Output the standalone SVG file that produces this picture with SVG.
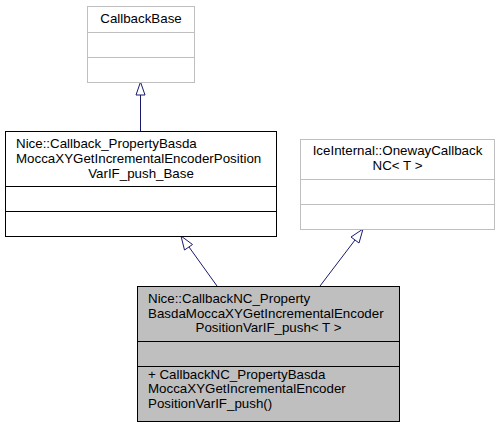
<svg xmlns="http://www.w3.org/2000/svg" width="501" height="427" viewBox="0 0 501 427">
<style>
text{font-family:"Liberation Sans",Arial,Helvetica,sans-serif;font-size:13.33px;fill:#000}
.c{text-anchor:middle}
.g{fill:#fff;stroke:#bfbfbf;stroke-width:1}
.b{fill:#fff;stroke:#000;stroke-width:1}
.d{fill:#bfbfbf;stroke:#000;stroke-width:1}
.e{stroke:#191970;stroke-width:1;fill:none}
.h{fill:#fff;stroke:#191970;stroke-width:1}
</style>
<rect width="501" height="427" fill="#fff"/>
<g id="connectors">
<line class="e" x1="140.5" y1="131" x2="140.5" y2="95"/>
<polygon class="h" points="140.5,82 136,95 145,95"/>
<line class="e" x1="217" y1="286" x2="189" y2="247"/>
<polygon class="h" points="181,236 184.5,250 192.5,244.5"/>
<line class="e" x1="320" y1="286" x2="355" y2="240"/>
<polygon class="h" points="363,229 351,237 359,243"/>
</g>
<g id="CallbackBase">
<rect class="g" x="87.5" y="6.5" width="107" height="76"/>
<line class="g" x1="87.5" y1="32.5" x2="194.5" y2="32.5"/>
<line class="g" x1="87.5" y1="57.5" x2="194.5" y2="57.5"/>
<text class="c" x="141" y="23">CallbackBase</text>
</g>
<g id="CallbackBaseNice">
<rect class="b" x="5.5" y="131.5" width="271" height="105"/>
<line class="b" x1="5.5" y1="186.5" x2="276.5" y2="186.5"/>
<line class="b" x1="5.5" y1="211.5" x2="276.5" y2="211.5"/>
<text x="16" y="148">Nice::Callback_PropertyBasda</text>
<text x="16" y="163">MoccaXYGetIncrementalEncoderPosition</text>
<text class="c" x="141" y="178">VarIF_push_Base</text>
</g>
<g id="OnewayCallbackNC">
<rect class="g" x="300.5" y="139.5" width="194" height="90"/>
<line class="g" x1="300.5" y1="179.5" x2="494.5" y2="179.5"/>
<line class="g" x1="300.5" y1="204.5" x2="494.5" y2="204.5"/>
<text class="c" x="397.5" y="155">IceInternal::OnewayCallback</text>
<text class="c" x="397.5" y="170">NC&lt; T &gt;</text>
</g>
<g id="CallbackNC">
<rect class="d" x="137.5" y="286.5" width="262" height="135"/>
<line class="d" x1="137.5" y1="341.5" x2="399.5" y2="341.5"/>
<line class="d" x1="137.5" y1="366.5" x2="399.5" y2="366.5"/>
<text x="148" y="303">Nice::CallbackNC_Property</text>
<text x="148" y="318">BasdaMoccaXYGetIncrementalEncoder</text>
<text class="c" x="268.5" y="332">PositionVarIF_push&lt; T &gt;</text>
<text x="148" y="379">+ CallbackNC_PropertyBasda</text>
<text x="148" y="393">MoccaXYGetIncrementalEncoder</text>
<text x="148" y="408">PositionVarIF_push()</text>
</g>
</svg>
